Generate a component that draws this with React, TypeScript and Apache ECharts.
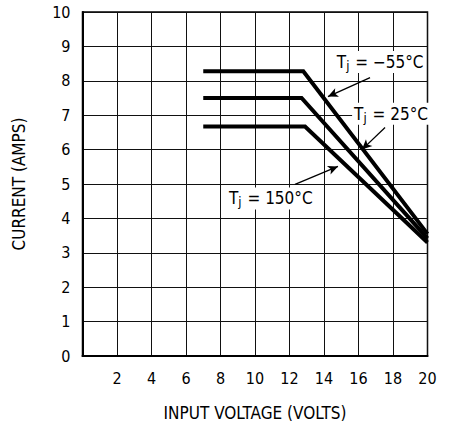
import React, { useEffect, useRef } from "react";
import * as echarts from "echarts";

const xTicks = [0, 2, 4, 6, 8, 10, 12, 14, 16, 18, 20];
const yTicks = [0, 1, 2, 3, 4, 5, 6, 7, 8, 9, 10];

const curveM55: [number, number][] = [[7, 8.28], [12.8, 8.28], [20, 3.55]];
const curve25: [number, number][] = [[7, 7.5], [12.7, 7.5], [20, 3.42]];
const curve150: [number, number][] = [[7, 6.67], [12.9, 6.67], [20, 3.3]];

const labelTexts = ["−55°C", "25°C", "150°C"];
const labelAnchors: [number, number][] = [[14.6, 8.55], [15.6, 7.04], [8.35, 4.58]];
const arrowTails: [number, number][] = [[16.67, 8.09], [17.54, 6.64], [12.32, 4.99]];
const arrowHeads: [number, number][] = [[14.23, 7.54], [16.2, 6.0], [14.81, 5.51]];

const FONT = "'Liberation Sans Narrow', 'DejaVu Sans Condensed', 'Liberation Sans', sans-serif";

export default function App() {
  const ref = useRef<HTMLDivElement>(null);
  useEffect(() => {
    if (!ref.current) return;
    const chart = echarts.init(ref.current, null, { renderer: "svg" });
    const lineSeries = (name: string, data: [number, number][]) => ({
      name,
      type: "line",
      data,
      showSymbol: false,
      symbol: "none",
      lineStyle: { color: "#000", width: 4, cap: "butt", join: "miter" },
      z: 3,
    });
    const s0: any = lineSeries("-55", curveM55);
    s0.markLine = {
      silent: true,
      symbol: ["none", "arrow"],
      symbolSize: [7, 10],
      label: { show: false },
      lineStyle: { color: "#000", width: 1.3, type: "solid" },
      data: arrowTails.map((t, i) => [
        { coord: t, symbol: "none" },
        { coord: arrowHeads[i], symbol: "arrow" },
      ]),
    };
    s0.markPoint = {
      silent: true,
      symbol: "circle",
      symbolSize: 1,
      itemStyle: { color: "rgba(0,0,0,0)" },
      data: labelAnchors.map((c, i) => ({
        coord: c,
        label: {
          show: true,
          position: "right",
          distance: 0,
          formatter: "{t|T}{s|j}{t| = " + labelTexts[i] + "}",
          backgroundColor: "#fff",
          padding: [1, 2, 1, 2],
          rich: {
            t: { fontSize: 17, fontFamily: FONT, color: "#000" },
            s: { fontSize: 13, fontFamily: FONT, color: "#000", padding: [7, 1, 0, 0] },
          },
        },
      })),
    };
    chart.setOption({
      animation: false,
      backgroundColor: "#fff",
      grid: {
        left: 82.5,
        right: 22.5,
        top: 12,
        bottom: 69,
        show: true,
        borderColor: "#000",
        borderWidth: 1.5,
      },
      xAxis: {
        type: "value",
        min: 0,
        max: 20,
        interval: 2,
        name: "INPUT VOLTAGE (VOLTS)",
        nameLocation: "middle",
        nameGap: 48,
        nameTextStyle: { fontSize: 17, fontFamily: FONT, color: "#000" },
        axisLine: { show: true, lineStyle: { color: "#000", width: 2 } },
        axisTick: { show: false },
        axisLabel: {
          fontSize: 16,
          fontFamily: FONT,
          color: "#000",
          margin: 14,
          formatter: (v: number) => (v === 0 || !xTicks.includes(v) ? "" : String(v)),
        },
        splitLine: { show: true, lineStyle: { color: "#111", width: 1 } },
      },
      yAxis: {
        type: "value",
        min: 0,
        max: 10,
        interval: 1,
        name: "CURRENT (AMPS)",
        nameLocation: "middle",
        nameRotate: 90,
        nameGap: 55,
        nameTextStyle: { fontSize: 17, fontFamily: FONT, color: "#000" },
        axisLine: { show: true, lineStyle: { color: "#000", width: 2 } },
        axisTick: { show: false },
        axisLabel: {
          fontSize: 16,
          fontFamily: FONT,
          color: "#000",
          margin: 12,
          formatter: (v: number) => (yTicks.includes(v) ? String(v) : ""),
        },
        splitLine: { show: true, lineStyle: { color: "#111", width: 1 } },
      },
      series: [s0, lineSeries("25", curve25), lineSeries("150", curve150)],
    });
    return () => chart.dispose();
  }, []);
  return (
    <div
      ref={ref}
      style={{ position: "absolute", left: 0, top: 0, width: 450, height: 426 }}
    />
  );
}
